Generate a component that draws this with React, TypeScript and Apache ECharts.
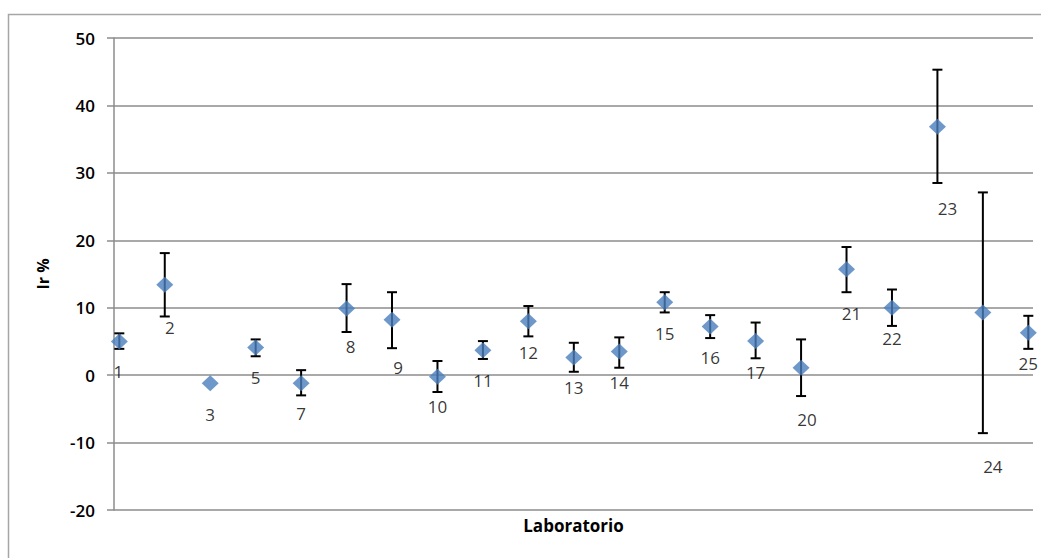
import React, { useEffect, useRef } from "react";
import * as echarts from "echarts";

const labs = ["1","2","3","5","7","8","9","10","11","12","13","14","15","16","17","20","21","22","23","24","25"];
const values = [5.0, 13.4, -1.2, 4.1, -1.2, 9.9, 8.2, -0.25, 3.7, 8.0, 2.6, 3.5, 10.8, 7.2, 5.05, 1.1, 15.7, 10.0, 36.85, 9.3, 6.3];
const lower = [3.9, 8.7, null, 2.8, -3.0, 6.4, 4.0, -2.5, 2.4, 5.75, 0.5, 1.1, 9.3, 5.5, 2.5, -3.1, 12.3, 7.3, 28.5, -8.6, 3.9];
const upper = [6.2, 18.1, null, 5.3, 0.74, 13.5, 12.3, 2.1, 5.05, 10.25, 4.8, 5.6, 12.3, 8.9, 7.8, 5.3, 19.0, 12.7, 45.3, 27.1, 8.8];
const yTicks = { min: -20, max: 50, interval: 10 };

// label offsets (style only)
const labelOffsets: [number, number][] = [
  [-1, 30], [5, 43], [0, 31], [0, 30], [0, 30], [4, 38], [6, 48], [0, 30], [0, 30], [0, 31],
  [0, 30], [0, 31], [0, 31], [0, 31], [0, 31], [6, 52], [5, 44], [0, 31], [10, 82], [10, 154], [0, 31],
];

const FONT = "'Open Sans', sans-serif";

export default function App() {
  const ref = useRef<HTMLDivElement>(null);
  useEffect(() => {
    document.body.style.margin = "0";
    const chart = echarts.init(ref.current!, null, { renderer: "svg" });
    const scatterData = values.map((v, i) => ({
      value: [i + 1, v],
      label: { offset: labelOffsets[i] },
    }));
    const errData = values.map((v, i) => [i + 1, lower[i], upper[i]]);
    chart.setOption({
      animation: false,
      backgroundColor: "#fff",
      graphic: [
        {
          type: "rect",
          shape: { x: 8.5, y: 14.5, width: 1100, height: 600 },
          style: { fill: "none", stroke: "#a6a6a6", lineWidth: 1.5 },
          silent: true,
        },
      ],
      grid: { left: 114, right: 8, top: 38, bottom: 48 },
      xAxis: {
        type: "value",
        min: 0.883,
        max: 21.103,
        show: true,
        name: "Laboratorio",
        nameLocation: "middle",
        nameGap: 7,
        nameTextStyle: { fontFamily: FONT, fontSize: 17, fontWeight: "bold", color: "#000" },
        axisLine: { show: false },
        axisTick: { show: false },
        axisLabel: { show: false },
        splitLine: { show: false },
      },
      yAxis: {
        type: "value",
        min: yTicks.min,
        max: yTicks.max,
        interval: yTicks.interval,
        name: "Ir %",
        nameLocation: "middle",
        nameGap: 63,
        nameRotate: 90,
        nameTextStyle: { fontFamily: FONT, fontSize: 16, fontWeight: "bold", color: "#000" },
        axisLine: { show: true, lineStyle: { color: "#8c8c8c", width: 1.5 } },
        axisTick: { show: true, length: 7, lineStyle: { color: "#8c8c8c", width: 1.5 } },
        axisLabel: { margin: 19, fontFamily: FONT, fontSize: 17, fontWeight: 600, color: "#000" },
        splitLine: { show: true, lineStyle: { color: "#8c8c8c", width: 1.5 } },
      },
      series: [
        {
          type: "custom",
          z: 2,
          data: errData,
          renderItem: (params: any, api: any) => {
            const lo = api.value(1);
            const hi = api.value(2);
            if (lo === null || hi === null || isNaN(lo) || isNaN(hi)) return null;
            const x = api.value(0);
            const pLo = api.coord([x, lo]);
            const pHi = api.coord([x, hi]);
            const hw = 5;
            const st = { stroke: "#000", lineWidth: 2 };
            return {
              type: "group",
              children: [
                { type: "line", shape: { x1: pLo[0], y1: pLo[1], x2: pHi[0], y2: pHi[1] }, style: st },
                { type: "line", shape: { x1: pLo[0] - hw, y1: pLo[1], x2: pLo[0] + hw, y2: pLo[1] }, style: st },
                { type: "line", shape: { x1: pHi[0] - hw, y1: pHi[1], x2: pHi[0] + hw, y2: pHi[1] }, style: st },
              ],
            };
          },
        },
        {
          type: "scatter",
          z: 3,
          symbol: "diamond",
          symbolSize: [17, 16],
          itemStyle: { color: "#4A7EBB" },
          data: scatterData,
          label: {
            show: true,
            position: "inside",
            formatter: (p: any) => labs[p.dataIndex],
            fontFamily: FONT,
            fontSize: 17,
            color: "#000",
            textBorderWidth: 0,
            textBorderColor: "transparent",
          },
        },
      ],
    });
    return () => chart.dispose();
  }, []);
  return <div ref={ref} style={{ width: 1041, height: 558 }} />;
}
